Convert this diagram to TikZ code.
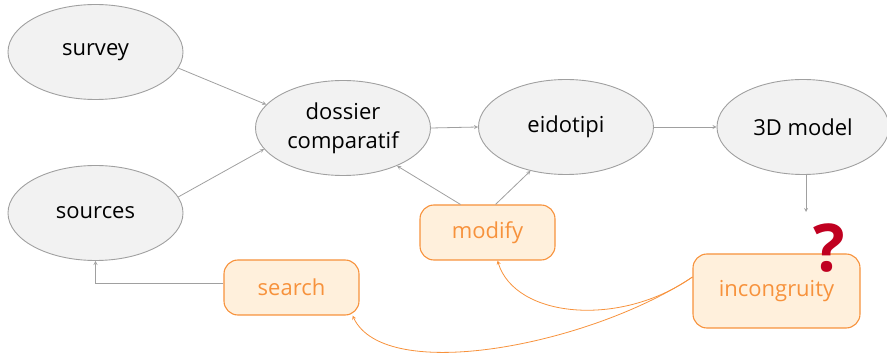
\documentclass[tikz,border=0pt]{standalone}
\usepackage{fontspec}
\setmainfont{Open Sans}
\usetikzlibrary{arrows,shapes.geometric}
\definecolor{stepgray}{RGB}{160,160,160}
\definecolor{stepfill}{RGB}{242,242,242}
\definecolor{actorange}{RGB}{247,146,60}
\definecolor{actfill}{RGB}{255,240,220}
\definecolor{askred}{RGB}{192,0,32}
\tikzset{
  phase/.style={ellipse,draw=stepgray,fill=stepfill,line width=0.9pt,minimum width=175pt,minimum height=95pt,inner sep=0pt,align=center,font=\fontsize{22}{29}\selectfont},
  action/.style={rounded corners=14pt,draw=actorange,fill=actfill,line width=1.1pt,minimum width=135pt,minimum height=55pt,inner sep=0pt,text=actorange,font=\fontsize{22}{29}\selectfont},
  flow/.style={draw=stepgray,line width=0.8pt,-stealth},
  back/.style={draw=actorange,line width=0.8pt,-stealth}
}
\begin{document}
\begin{tikzpicture}[x=1pt,y=1pt,yscale=-1,xscale=1]
\useasboundingbox (0,0) rectangle (887,355);

%Shape: Ellipse [survey, sources, dossier, eidotipi, 3D model]
\node [phase] (survey) at (95.5,52) {survey};
\node [phase] (sources) at (95.5,213) {sources};
\node [phase] (dossier) at (343,128) {dossier\\comparatif};
\node [phase] (eidotipi) at (566,127) {eidotipi};
\node [phase,minimum width=172pt] (model) at (803,127) {3D model};

%Shape: Rounded Rect [modify, search, incongruity]
\node [action] (modify) at (487.5,232.5) {modify};
\node [action] (search) at (291.5,287.5) {search};
\node [action,minimum width=167pt,minimum height=74pt] (incongruity) at (776.5,291) {incongruity};

%Text: question mark
\node [text=askred,font=\fontsize{66}{66}\selectfont\bfseries,inner sep=0pt] (ask) at (829,248) {?};

%Straight Lines: forward flow
\draw [flow] (survey.-11) -- (dossier.163);
\draw [flow] (sources.11) -- (dossier.195);
\draw [flow] (dossier.east) -- (eidotipi.west);
\draw [flow] (eidotipi.east) -- (model.west);
\coordinate (check) at (806,212);
\draw [flow] (model.south -| check) -- (check);

%Straight Lines: modify and search
\draw [flow] ([xshift=-27pt]modify.north) -- (dossier.-35);
\draw [flow] ([xshift=8pt]modify.north) -- (eidotipi.231);
\draw [flow] ([yshift=-4pt]search.west) -| (sources.south);

%Curves: back from incongruity
\draw [back] ([yshift=-14pt]incongruity.west) .. controls (620,328) and (515,318) .. ([xshift=10pt]modify.south);
\draw [back] ([yshift=-14pt]incongruity.west) .. controls (590,345) and (385,385) .. ([xshift=-7pt]search.south east);

\end{tikzpicture}
\end{document}
